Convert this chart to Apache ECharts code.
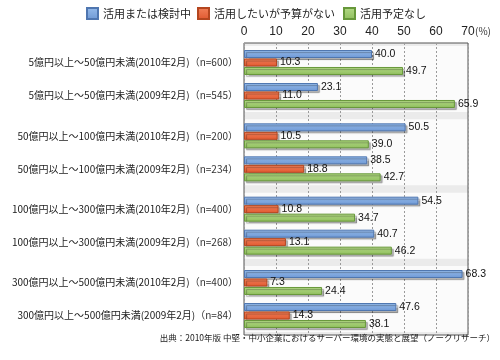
<!DOCTYPE html>
<html><head><meta charset="utf-8">
<script src="https://cdn.jsdelivr.net/npm/echarts@6/dist/echarts.min.js"></script>
<style>html,body{margin:0;padding:0;background:#fff}#c{width:500px;height:360px}</style>
</head><body><div id="c"></div>
<script>
// ---- data ----
const categories = [
  '5億円以上～50億円未満(2010年2月)',
  '5億円以上～50億円未満(2009年2月)',
  '50億円以上～100億円未満(2010年2月)',
  '50億円以上～100億円未満(2009年2月)',
  '100億円以上～300億円未満(2010年2月)',
  '100億円以上～300億円未満(2009年2月)',
  '300億円以上～500億円未満(2010年2月)',
  '300億円以上～500億円未満(2009年2月)'
];
const sampleSizes = ['n=600', 'n=545', 'n=200', 'n=234', 'n=400', 'n=268', 'n=400', 'n=84'];
const seriesNames = ['活用または検討中', '活用したいが予算がない', '活用予定なし'];
const usingOrConsidering = [40.0, 23.1, 50.5, 38.5, 54.5, 40.7, 68.3, 47.6];
const wantButNoBudget = [10.3, 11.0, 10.5, 18.8, 10.8, 13.1, 7.3, 14.3];
const noPlan = [49.7, 65.9, 39.0, 42.7, 34.7, 46.2, 24.4, 38.1];
const axisMin = 0, axisMax = 70, axisStep = 10;
const unitLabel = '(%)';
const sourceNote = '出典：2010年版 中堅・中小企業におけるサーバー環境の実態と展望（ノークリサーチ）';

// ---- layout / style ----
const FONT = '"Noto Sans CJK JP", "Liberation Sans", sans-serif';
const NUMFONT = '"Liberation Sans", Arial, sans-serif';
const plotLeft = 244, plotTop = 43, plotWidth = 224, plotHeight = 292;
const perGroup = 2, groupPad = 3, bandH = 33;
const groupCount = categories.length / perGroup;
const groupH = bandH * perGroup;
const groupGap = (plotHeight - 2 * groupPad - groupCount * groupH) / (groupCount - 1);
const legendLefts = [86, 197, 343];

function grad(top, bottom) {
  return new echarts.graphic.LinearGradient(0, 0, 0, 1, [
    { offset: 0, color: top }, { offset: 1, color: bottom }
  ]);
}
const styles = [
  { color: grad('#96bcec', '#6e98d4'), borderColor: '#4f76b0' },
  { color: grad('#f2825a', '#e0572f'), borderColor: '#b4461f' },
  { color: grad('#b4da86', '#8fbe5d'), borderColor: '#67983a' }
];
const valuesBySeries = [usingOrConsidering, wantButNoBudget, noPlan];

const grids = [{ left: plotLeft, top: plotTop, width: plotWidth, height: plotHeight, show: true,
  backgroundColor: '#ebebeb', borderWidth: 0 }];
const xAxes = [{
  type: 'value', gridIndex: 0, position: 'top', min: axisMin, max: axisMax, interval: axisStep,
  axisLine: { show: false }, axisTick: { show: false },
  axisLabel: { fontSize: 12, color: '#222', margin: 5, fontFamily: NUMFONT },
  splitLine: { show: true, lineStyle: { color: '#9a9a9a', type: [2, 2], width: 1 } }
}];
const yAxes = [{ type: 'category', gridIndex: 0, data: [], show: false }];
const series = [];

for (let g = 0; g < groupCount; g++) {
  const gi = g + 1;
  grids.push({ left: plotLeft, top: plotTop + groupPad + g * (groupH + groupGap), width: plotWidth,
    height: groupH, show: true, backgroundColor: '#fbfbfb', borderWidth: 0 });
  xAxes.push({ type: 'value', gridIndex: gi, min: axisMin, max: axisMax, interval: axisStep, show: false });
  const cats = categories.slice(g * perGroup, (g + 1) * perGroup);
  yAxes.push({
    type: 'category', gridIndex: gi, data: cats, inverse: true,
    axisLine: { show: false }, axisTick: { show: false },
    axisLabel: {
      margin: 6,
      formatter: (v, i) => `{m|${v}}{n|（${sampleSizes[g * perGroup + i]}）}`,
      rich: {
        m: { fontSize: 10, color: '#1a1a1a', fontFamily: FONT },
        n: { fontSize: 10, color: '#333', fontFamily: FONT }
      }
    }
  });
  valuesBySeries.forEach((vals, s) => {
    series.push({
      name: seriesNames[s], type: 'bar', xAxisIndex: gi, yAxisIndex: gi,
      data: vals.slice(g * perGroup, (g + 1) * perGroup),
      barWidth: 8, barGap: '6%',
      itemStyle: { color: styles[s].color, borderColor: styles[s].borderColor, borderWidth: 1,
        shadowColor: 'rgba(0,0,0,0.28)', shadowOffsetX: 2, shadowOffsetY: 2, shadowBlur: 1 },
      label: { show: true, position: 'right', distance: 3, fontSize: 10.5, color: '#111',
        fontFamily: NUMFONT, formatter: p => p.value.toFixed(1) },
      emphasis: { disabled: true }
    });
  });
}
// frame on top
grids.push({ left: plotLeft, top: plotTop, width: plotWidth, height: plotHeight, show: true,
  backgroundColor: 'transparent', borderColor: '#555', borderWidth: 1 });
xAxes.push({ type: 'value', gridIndex: groupCount + 1, min: axisMin, max: axisMax, show: false });
yAxes.push({ type: 'category', gridIndex: groupCount + 1, data: [], show: false });

const legends = seriesNames.map((n, i) => ({
  data: [n], left: legendLefts[i], top: 7, padding: 0, icon: 'rect', itemWidth: 11, itemHeight: 11,
  itemGap: 0, textStyle: { fontSize: 11, color: '#222', fontFamily: FONT }
}));

const chart = echarts.init(document.getElementById('c'), null, { renderer: 'canvas' });
chart.setOption({
  animation: false,
  backgroundColor: '#fff',
  title: [
    { text: sourceNote, right: 0, top: 329,
      textStyle: { fontSize: 8.5, fontWeight: 'normal', color: '#222', fontFamily: FONT } },
    { text: unitLabel, left: 470, top: 21,
      textStyle: { fontSize: 10, fontWeight: 'normal', color: '#333', fontFamily: FONT } }
  ],
  legend: legends,
  grid: grids, xAxis: xAxes, yAxis: yAxes, series
});
</script></body></html>
